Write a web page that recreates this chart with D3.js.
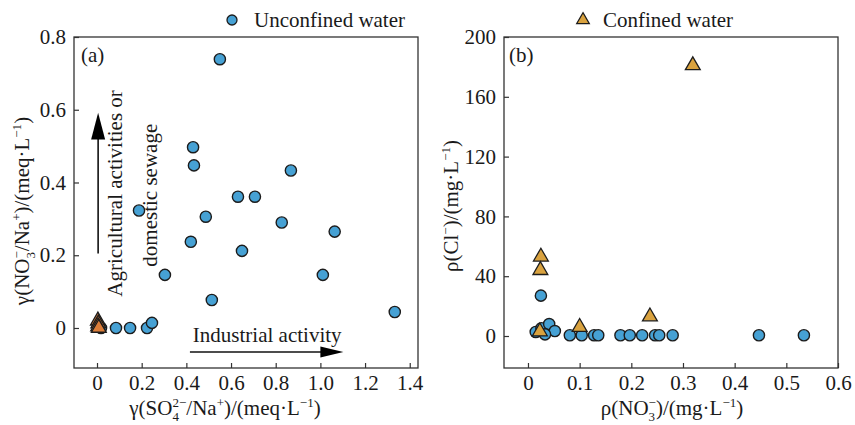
<!DOCTYPE html>
<html>
<head>
<meta charset="utf-8">
<script src="https://cdn.jsdelivr.net/npm/d3@7/dist/d3.min.js"></script>
<style>
  html, body { margin: 0; padding: 0; background: #fff; }
  svg { display: block; font-family: "Liberation Serif", "Times New Roman", serif; }
</style>
</head>
<body>
<svg id="chart" width="855" height="425"></svg>
<script>
// Panel (a): γ(SO4²⁻/Na⁺) vs γ(NO3⁻/Na⁺), meq/L
const aUnconfinedX = [0.55, 0.43, 0.434, 0.868, 0.631, 0.707, 0.487, 0.827, 0.188, 1.064, 0.42, 0.649, 0.304, 1.011, 0.514, 1.333, 0.085, 0.148, 0.224, 0.246, 0.018];
const aUnconfinedY = [0.739, 0.497, 0.447, 0.433, 0.361, 0.361, 0.306, 0.29, 0.323, 0.265, 0.237, 0.212, 0.146, 0.146, 0.077, 0.044, 0.0, 0.0, 0.0, 0.014, 0.0];
const aConfinedX = [0.004, 0.006, 0.005, 0.008];
const aConfinedY = [0.02, 0.012, 0.004, 0.0];

// Panel (b): ρ(NO3⁻) vs ρ(Cl⁻), mg/L
const bUnconfinedX = [0.025, 0.015, 0.026, 0.041, 0.052, 0.033, 0.081, 0.104, 0.128, 0.136, 0.179, 0.197, 0.221, 0.246, 0.254, 0.28, 0.447, 0.534];
const bUnconfinedY = [27, 2.7, 5.2, 8, 3.3, 1.1, 0.5, 0.5, 0.5, 0.5, 0.5, 0.5, 0.5, 0.5, 0.5, 0.5, 0.5, 0.5];
const bConfinedX = [0.319, 0.025, 0.024, 0.023, 0.1, 0.236];
const bConfinedY = [181, 53, 44, 3, 6, 13];

// Axis ticks
const aXTicks = [0, 0.2, 0.4, 0.6, 0.8, 1.0, 1.2, 1.4];
const aYTicks = [0, 0.2, 0.4, 0.6, 0.8];
const bXTicks = [0, 0.1, 0.2, 0.3, 0.4, 0.5, 0.6];
const bYTicks = [0, 40, 80, 120, 160, 200];

const legendLabels = ["Unconfined water", "Confined water"];

const FS = 21;
const blue = "#46a1d4";
const gold = "#d9a23f";
const orange = "#dc7e3a";
const edge = "#1c1c1c";

const svg = d3.select("#chart");

const plotTop = 37, plotBottom = 368;
const boxA = { left: 74, right: 418 };
const boxB = { left: 504, right: 838 };

const xA = d3.scaleLinear().domain([-0.103, 1.437]).range([boxA.left, boxA.right]);
const yA = d3.scaleLinear().domain([-0.11, 0.8]).range([plotBottom, plotTop]);
const xB = d3.scaleLinear().domain([-0.0464, 0.6]).range([boxB.left, boxB.right]);
const yB = d3.scaleLinear().domain([-21.4, 200]).range([plotBottom, plotTop]);

const fmt1 = d => d === 0 ? "0" : d3.format(".1f")(d);

function drawAxes(x, y, xTicks, yTicks, xFmt, yFmt) {
  const gx = svg.append("g")
    .attr("transform", `translate(0,${plotBottom})`)
    .call(d3.axisBottom(x).tickValues(xTicks).tickFormat(xFmt)
      .tickSizeInner(-5).tickSizeOuter(0).tickPadding(7));
  const gy = svg.append("g")
    .attr("transform", `translate(${x.range()[0]},0)`)
    .call(d3.axisLeft(y).tickValues(yTicks).tickFormat(yFmt)
      .tickSizeInner(-5).tickSizeOuter(0).tickPadding(8));
  [gx, gy].forEach(g => {
    g.select(".domain").remove();
    g.selectAll("line").attr("stroke", "#333").attr("stroke-width", 1.2);
    g.selectAll("text").attr("font-size", FS).attr("fill", "#1a1a1a")
      .attr("font-family", "Liberation Serif, Times New Roman, serif");
  });
  svg.append("rect")
    .attr("x", x.range()[0]).attr("y", plotTop)
    .attr("width", x.range()[1] - x.range()[0])
    .attr("height", plotBottom - plotTop)
    .attr("fill", "none").attr("stroke", "#333").attr("stroke-width", 1.3);
}

// Text with subscripts / superscripts; "supStack" sits above the preceding subscript
function richText(sel, parts, fs) {
  let cur = 0;
  let lastSub = null;
  parts.forEach(([t, kind]) => {
    const target = kind === "sub" ? 0.28 * fs : (kind === "sup" || kind === "supStack") ? -0.38 * fs : 0;
    const ts = sel.append("tspan").text(t)
      .attr("font-size", kind === "n" ? fs : 0.62 * fs)
      .attr("dy", target - cur);
    if (kind === "supStack" && lastSub) {
      ts.attr("dx", -lastSub.node().getComputedTextLength());
    }
    cur = target;
    lastSub = kind === "sub" ? ts : null;
  });
}

function pts(xs, ys) { return xs.map((v, i) => ({ x: v, y: ys[i] })); }

const tri = d3.symbol().type(d3.symbolTriangle).size(95);

function drawCircles(data, x, y) {
  svg.append("g").selectAll("circle").data(data).join("circle")
    .attr("cx", d => x(d.x)).attr("cy", d => y(d.y)).attr("r", 5.6)
    .attr("fill", blue).attr("stroke", edge).attr("stroke-width", 1.4);
}
function drawTriangles(data, x, y, fill) {
  svg.append("g").selectAll("path").data(data).join("path")
    .attr("d", tri)
    .attr("transform", d => `translate(${x(d.x)},${y(d.y)})`)
    .attr("fill", fill).attr("stroke", edge).attr("stroke-width", 1.3);
}

// ---- Panel (a)
drawAxes(xA, yA, aXTicks, aYTicks, fmt1, fmt1);
drawCircles(pts(aUnconfinedX, aUnconfinedY), xA, yA);
drawTriangles(pts(aConfinedX, aConfinedY), xA, yA, orange);

// ---- Panel (b)
drawAxes(xB, yB, bXTicks, bYTicks, fmt1, d3.format("d"));
drawCircles(pts(bUnconfinedX, bUnconfinedY), xB, yB);
drawTriangles(pts(bConfinedX, bConfinedY), xB, yB, gold);

// Panel tags
svg.append("text").attr("x", 81).attr("y", 62).attr("font-size", FS).attr("fill", "#1a1a1a").text("(a)");
svg.append("text").attr("x", 509).attr("y", 62).attr("font-size", FS).attr("fill", "#1a1a1a").text("(b)");

// Axis titles
const tA_x = svg.append("text").attr("x", 225).attr("y", 415).attr("text-anchor", "middle").attr("fill", "#1a1a1a");
richText(tA_x, [["γ(SO", "n"], ["4", "sub"], ["2−", "supStack"], ["/Na", "n"], ["+", "sup"], [")/(meq·L", "n"], ["−1", "sup"], [")", "n"]], FS);

const tA_y = svg.append("text").attr("transform", "translate(29,211) rotate(-90)").attr("text-anchor", "middle").attr("fill", "#1a1a1a");
richText(tA_y, [["γ(NO", "n"], ["3", "sub"], ["−", "supStack"], ["/Na", "n"], ["+", "sup"], [")/(meq·L", "n"], ["−1", "sup"], [")", "n"]], FS);

const tB_x = svg.append("text").attr("x", 672).attr("y", 415).attr("text-anchor", "middle").attr("fill", "#1a1a1a");
richText(tB_x, [["ρ(NO", "n"], ["3", "sub"], ["−", "supStack"], [")/(mg·L", "n"], ["−1", "sup"], [")", "n"]], FS);

const tB_y = svg.append("text").attr("transform", "translate(458,206) rotate(-90)").attr("text-anchor", "middle").attr("fill", "#1a1a1a");
richText(tB_y, [["ρ(Cl", "n"], ["−", "sup"], [")/(mg·L", "n"], ["−1", "sup"], [")", "n"]], FS);

// Annotations in panel (a)
const ax0 = xA(0.005);
svg.append("line").attr("x1", ax0).attr("x2", ax0).attr("y1", yA(0.205)).attr("y2", yA(0.52))
  .attr("stroke", "#111").attr("stroke-width", 1.6);
svg.append("path")
  .attr("d", `M${ax0},${yA(0.592)} L${ax0 - 7},${yA(0.518)} L${ax0 + 7},${yA(0.518)} Z`)
  .attr("fill", "#000");

svg.append("text").attr("transform", `translate(${xA(0.08)},${yA(0.37)}) rotate(-90)`)
  .attr("text-anchor", "middle").attr("dy", "0.35em").attr("font-size", FS).attr("fill", "#1a1a1a")
  .text("Agricultural activities or");
svg.append("text").attr("transform", `translate(${xA(0.237)},${yA(0.365)}) rotate(-90)`)
  .attr("text-anchor", "middle").attr("dy", "0.35em").attr("font-size", FS).attr("fill", "#1a1a1a")
  .text("domestic sewage");

const hy = yA(-0.066);
svg.append("line").attr("x1", xA(0.416)).attr("x2", xA(1.02)).attr("y1", hy).attr("y2", hy)
  .attr("stroke", "#111").attr("stroke-width", 1.6);
svg.append("path")
  .attr("d", `M${xA(1.103)},${hy} L${xA(1.0)},${hy - 5.5} L${xA(1.0)},${hy + 5.5} Z`)
  .attr("fill", "#000");
svg.append("text").attr("x", xA(0.762)).attr("y", yA(-0.038)).attr("text-anchor", "middle")
  .attr("font-size", FS).attr("fill", "#1a1a1a").text("Industrial activity");

// Legends
svg.append("circle").attr("cx", 232).attr("cy", 20).attr("r", 5)
  .attr("fill", blue).attr("stroke", edge).attr("stroke-width", 1.3);
svg.append("text").attr("x", 254).attr("y", 27).attr("font-size", FS).attr("fill", "#1a1a1a").text(legendLabels[0]);
svg.append("path").attr("d", d3.symbol().type(d3.symbolTriangle).size(70)())
  .attr("transform", "translate(583,20)")
  .attr("fill", gold).attr("stroke", edge).attr("stroke-width", 1.2);
svg.append("text").attr("x", 603).attr("y", 27).attr("font-size", FS).attr("fill", "#1a1a1a").text(legendLabels[1]);
</script>
</body>
</html>
